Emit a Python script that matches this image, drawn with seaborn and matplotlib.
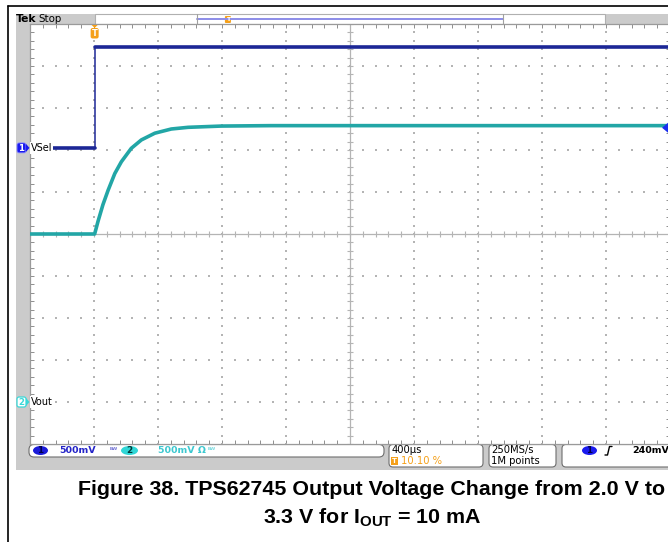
import numpy as np
import pandas as pd
import matplotlib
matplotlib.use("Agg")
import matplotlib.pyplot as plt
from matplotlib.patches import Rectangle, FancyBboxPatch, Polygon, Ellipse
import seaborn as sns

# ---------------- acquisition settings ----------------
time_per_div_us = 400
trigger_pos_pct = 10.10
n_hdiv = 10
n_vdiv = 10
ch1_volts_per_div = 0.5
ch2_volts_per_div = 0.5
ch1_position_div = 2.05
ch2_position_div = -4.0
trigger_level_v = 0.24

# ---------------- waveforms ----------------
# CH1: VSel control signal
vsel_time_us = [-404, 0, 0, 3596]
vsel_volts = [0.0, 0.0, 1.2, 1.2]

# CH2: regulator output voltage
vout_time_us = [-404, 0, 21, 52, 84, 126, 167, 229, 292, 376, 479, 584, 792, 1100, 3596]
vout_volts = [2.0, 2.0, 2.15, 2.35, 2.52, 2.72, 2.86, 3.02, 3.12, 3.20, 3.25, 3.27, 3.285, 3.29, 3.29]

# ---------------- readout texts ----------------
ch1_scale_text = "500mV"
ch2_scale_text = "500mV"
timebase_text = "400µs"
trigger_text = "10.10 %"
rate_text = "250MS/s"
points_text = "1M points"
trig_level_text = "240mV"
caption_lines = ["Figure 38. TPS62745 Output Voltage Change from 2.0 V to",
                 r"3.3 V for I$_{\mathbf{OUT}}$ = 10 mA"]

sns.set_theme(style="white")
plt.rcParams["font.family"] = ["DejaVu Sans"]
plt.rcParams["mathtext.fontset"] = "custom"
plt.rcParams["mathtext.rm"] = "Liberation Sans:bold"
plt.rcParams["mathtext.bf"] = "Liberation Sans:bold"

W, H = 668, 542
fig = plt.figure(figsize=(W / 100, H / 100), dpi=100)
fig.patch.set_facecolor("white")

# pixel canvas behind everything
bg = fig.add_axes([0, 0, 1, 1], zorder=0)
bg.set_xlim(0, W)
bg.set_ylim(H, 0)
bg.axis("off")

# graticule area
L, T, R, B = 30, 24, 670, 444
ax = fig.add_axes([L / W, 1 - B / H, (R - L) / W, (B - T) / H], zorder=1)

# overlay for markers drawn on top of the graticule
ov = fig.add_axes([0, 0, 1, 1], zorder=2)
ov.set_xlim(0, W)
ov.set_ylim(H, 0)
ov.axis("off")
ov.patch.set_alpha(0)

GRAY = "#cbcbcb"
GRID = "#b4b4b4"
BLUE_TR = "#1c2796"
CYAN_TR = "#22a6a6"
CH1_BADGE = "#1a1aee"
CH2_BADGE = "#3ad8d8"
ORANGE = "#f5a019"

# ---------------- frame and bezel ----------------
bg.plot([8, 8], [6, H], color="black", lw=1.2)
bg.plot([8, W], [6, 6], color="black", lw=1.2)
bg.add_patch(Rectangle((16, 14), W - 16, 470 - 14, facecolor=GRAY, edgecolor="none"))
# top record bar
bg.add_patch(Rectangle((95, 14), 510, 10, facecolor="white", edgecolor="#b0b0b0", lw=0.8))
bg.plot([197, 503], [18.5, 18.5], color="#8c8ce8", lw=1.4)
bg.plot([197, 197], [14, 24], color="#a0a0a0", lw=0.8)
bg.plot([503, 503], [14, 24], color="#a0a0a0", lw=0.8)
trig_view_x = 197 + (503 - 197) * trigger_pos_pct / 100
bg.add_patch(FancyBboxPatch((trig_view_x - 3, 16), 6, 7, boxstyle="round,pad=0,rounding_size=1",
                            facecolor=ORANGE, edgecolor="none"))
bg.text(trig_view_x, 19.8, "T", color="white", fontsize=4.5, ha="center", va="center", fontweight="bold")
bg.text(16, 19, "Tek", fontsize=7.8, fontweight="bold", ha="left", va="center", color="black")
bg.text(38, 19, "Stop", fontsize=7.4, ha="left", va="center", color="black")

# ---------------- graticule ----------------
t0 = -trigger_pos_pct / 100 * n_hdiv * time_per_div_us
t1 = t0 + n_hdiv * time_per_div_us
tc = (t0 + t1) / 2
ax.set_xlim(t0, t1)
ax.set_ylim(-n_vdiv / 2, n_vdiv / 2)
ax.set_facecolor("white")
for s in ax.spines.values():
    s.set_color("#9a9a9a")
    s.set_linewidth(0.9)
ax.set_xticks(np.arange(t0, t1 + 1, time_per_div_us))
ax.set_xticks(np.arange(t0, t1 + 1, time_per_div_us / 5), minor=True)
ax.set_yticks(np.arange(-5, 5.01, 1))
ax.set_yticks(np.arange(-5, 5.01, 0.2), minor=True)
ax.tick_params(which="both", direction="in", top=True, bottom=True, left=True, right=True,
               length=2.8, width=0.7, color="#8e8e8e", labelbottom=False, labelleft=False)

xmaj = np.arange(t0 + time_per_div_us, t1 - 1, time_per_div_us)
xmin_ = np.arange(t0, t1 + 1, time_per_div_us / 5)
ymaj = np.arange(-4, 4.01, 1)
ymin_ = np.arange(-5, 5.01, 0.2)
gx, gy = [], []
for x in xmaj:
    if abs(x - tc) < 1:
        continue
    gx += [x] * len(ymin_)
    gy += list(ymin_)
for y in ymaj:
    if abs(y) < 1e-6:
        continue
    gx += list(xmin_)
    gy += [y] * len(xmin_)
sns.scatterplot(x=gx, y=gy, ax=ax, marker="s", s=0.9, color=GRID, linewidth=0, zorder=1)
ax.axvline(tc, color=GRID, lw=0.9, zorder=1)
ax.axhline(0, color=GRID, lw=0.9, zorder=1)
ax.scatter(np.full(len(ymin_), tc), ymin_, marker="_", s=16, color=GRID, linewidths=0.8, zorder=1)
ax.scatter(xmin_, np.zeros(len(xmin_)), marker="|", s=14, color=GRID, linewidths=0.8, zorder=1)

# ---------------- traces ----------------
ch1 = pd.DataFrame({"t": vsel_time_us, "v": vsel_volts})
ch1["div"] = ch1["v"] / ch1_volts_per_div + ch1_position_div
ch2 = pd.DataFrame({"t": vout_time_us, "v": vout_volts})
ch2["div"] = ch2["v"] / ch2_volts_per_div + ch2_position_div

sns.lineplot(data=ch1, x="t", y="div", ax=ax, estimator=None, sort=False, color=BLUE_TR, lw=1.1, zorder=3)
for level in (ch1["v"].iloc[0], ch1["v"].iloc[-1]):
    seg = ch1[ch1["v"] == level]
    sns.lineplot(data=seg, x="t", y="div", ax=ax, estimator=None, sort=False, color=BLUE_TR, lw=2.6, zorder=3)
sns.lineplot(data=ch2, x="t", y="div", ax=ax, estimator=None, sort=False, color=CYAN_TR, lw=2.6, zorder=4)
ax.set_xlabel("")
ax.set_ylabel("")

# ---------------- overlay markers ----------------
def div_to_px(d):
    return T + (n_vdiv / 2 - d) * (B - T) / n_vdiv

def t_to_px(t):
    return L + (t - t0) / (t1 - t0) * (R - L)

# trigger position marker
tx = t_to_px(0)
ov.add_patch(Polygon([[tx - 3, 25], [tx + 3, 25], [tx, 28]], closed=True, facecolor=ORANGE, edgecolor="none"))
ov.add_patch(FancyBboxPatch((tx - 4, 28), 8, 10.5, boxstyle="round,pad=0,rounding_size=2",
                            facecolor=ORANGE, edgecolor="none"))
ov.text(tx, 33.4, "T", color="white", fontsize=6, fontweight="bold", ha="center", va="center")

# channel ground markers and labels
y1 = div_to_px(ch1_position_div)
y2 = div_to_px(ch2_position_div)
ov.add_patch(FancyBboxPatch((17, y1 - 5), 9, 10, boxstyle="round,pad=0,rounding_size=2",
                            facecolor=CH1_BADGE, edgecolor="#9090ff", lw=0.6))
ov.add_patch(Polygon([[26, y1 - 4], [29.5, y1], [26, y1 + 4]], closed=True, facecolor=CH1_BADGE, edgecolor="none"))
ov.text(21.5, y1 + 0.3, "1", color="white", fontsize=6.2, fontweight="bold", ha="center", va="center")
ov.add_patch(FancyBboxPatch((17, y2 - 5), 9, 10, boxstyle="round,pad=0,rounding_size=2",
                            facecolor="white", edgecolor=CH2_BADGE, lw=0.9))
ov.add_patch(Polygon([[26, y2 - 4], [29.5, y2], [26, y2 + 4]], closed=True, facecolor=CH2_BADGE, edgecolor="none"))
ov.text(21.5, y2 + 0.3, "2", color=CH2_BADGE, fontsize=6.2, fontweight="bold", ha="center", va="center")
ov.text(31, y1, "VSel", fontsize=7, color="black", ha="left", va="center",
        bbox=dict(facecolor="white", edgecolor="none", pad=0.6))
ov.text(31, y2, "Vout", fontsize=7, color="black", ha="left", va="center",
        bbox=dict(facecolor="white", edgecolor="none", pad=0.6))

# trigger level marker on right edge
yt = div_to_px(trigger_level_v / ch1_volts_per_div + ch1_position_div)
ov.add_patch(Polygon([[668, yt - 5], [662, yt], [668, yt + 5]], closed=True, facecolor="#1a2ef0", edgecolor="none"))

# ---------------- status bar ----------------
def rbox(x, y, w, h, r=4):
    bg.add_patch(FancyBboxPatch((x, y), w, h, boxstyle=f"round,pad=0,rounding_size={r}",
                                facecolor="white", edgecolor="#6e6e6e", lw=0.8))

rbox(29, 444.5, 355, 12.5, r=5)
rbox(389, 444.5, 94, 22.5)
rbox(489, 444.5, 67, 22.5)
rbox(562, 444.5, 120, 22.5)

bg.add_patch(Ellipse((40.5, 450.5), 15, 9, facecolor="#1b1bd8", edgecolor="none"))
bg.text(40.5, 450.8, "1", fontsize=6.3, color="#000050", fontweight="bold", ha="center", va="center")
bg.text(59, 450.8, ch1_scale_text, fontsize=6.8, color="#2424c8", fontweight="bold", ha="left", va="center")
bg.text(110, 450.5, "ᴮᵂ", fontsize=5.5, color="#3030c0", ha="left", va="center")
bg.add_patch(Ellipse((129.5, 450.5), 17, 9, facecolor="#30d6d6", edgecolor="none"))
bg.text(129.5, 450.8, "2", fontsize=6.3, color="#003838", fontweight="bold", ha="center", va="center")
bg.text(158, 450.8, ch2_scale_text + " Ω", fontsize=6.8, color="#3cc8d0", fontweight="bold", ha="left", va="center")
bg.text(208, 450.5, "ᴮᵂ", fontsize=5.5, color="#3cc8d0", ha="left", va="center")

bg.text(392, 449.8, timebase_text, fontsize=7.2, color="black", ha="left", va="center")
bg.add_patch(Rectangle((391, 456.5), 7, 8, facecolor=ORANGE, edgecolor="none"))
bg.text(394.5, 460.7, "T", fontsize=5, color="white", fontweight="bold", ha="center", va="center")
bg.text(401, 460.8, trigger_text, fontsize=7.2, color=ORANGE, ha="left", va="center")

bg.text(491, 449.8, rate_text, fontsize=7.2, color="black", ha="left", va="center")
bg.text(491, 460.8, points_text, fontsize=7.2, color="black", ha="left", va="center")

bg.add_patch(Ellipse((589.5, 450.5), 15, 9, facecolor="#1b1bee", edgecolor="none"))
bg.text(589.5, 450.8, "1", fontsize=6.3, color="#000050", fontweight="bold", ha="center", va="center")
bg.plot([605, 607.5, 609.5, 612], [455, 455, 446.5, 446.5], color="black", lw=1.0)
bg.text(632, 450.8, trig_level_text, fontsize=6.8, color="black", fontweight="bold", ha="left", va="center")

# ---------------- caption ----------------
bg.text(372, 495, caption_lines[0], fontsize=15.4, fontweight="bold", family="Liberation Sans",
        ha="center", va="baseline", color="black")
bg.text(372, 523, caption_lines[1], fontsize=15.4, fontweight="bold", family="Liberation Sans",
        ha="center", va="baseline", color="black")

fig.savefig("out.png", dpi=100)
